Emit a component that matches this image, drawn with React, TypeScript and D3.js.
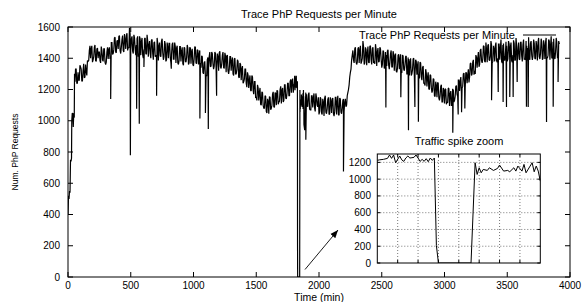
import React from "react";
import * as d3 from "d3";

// ---- data ----
const earlyTimes = [0, 4, 8, 12, 16, 20, 24, 28, 30, 34, 38, 42, 46, 50, 52, 56];
const earlyValues = [400, 520, 500, 550, 540, 750, 740, 760, 1000, 1050, 1040, 960, 1050, 1020, 1300, 1250];

// samples every 10 minutes, starting at 60
const partAStart = 60;
const partAValues = [
  1330, 1240, 1310, 1260, 1345, 1255, 1320, 1275, 1360, 1290,
  1380, 1450, 1400, 1480, 1390, 1470, 1385, 1460, 1400, 1440,
  1370, 1450, 1380, 1460, 1360, 1440, 1395, 1470, 1410, 1500,
  1430, 1530, 1440, 1510, 1460, 1545, 1430, 1520, 1450, 1555,
  1460, 1560, 1470, 1595, 1450, 1540, 1430, 1530, 1420, 1525,
  1410, 1540, 1420, 1530, 1400, 1525, 1430, 1550, 1410, 1510,
  1400, 1520, 1390, 1505, 1420, 1530, 1385, 1500, 1410, 1525,
  1390, 1510, 1380, 1500, 1400, 1495, 1370, 1490, 1395, 1500,
  1370, 1480, 1360, 1475, 1380, 1470, 1355, 1465, 1375, 1485,
  1360, 1470, 1365, 1460, 1350, 1475, 1370, 1455, 1360, 1450,
  1340, 1410, 1300, 1380, 1290, 1390, 1340, 1440, 1350, 1430,
  1330, 1440, 1340, 1430, 1320, 1445, 1335, 1420, 1340, 1435,
  1310, 1420, 1300, 1410, 1320, 1405, 1290, 1400, 1300, 1390,
  1280, 1370, 1260, 1350, 1250, 1330, 1240, 1310, 1210, 1290,
  1190, 1280, 1170, 1250, 1150, 1230, 1130, 1210, 1100, 1180,
  1080, 1160, 1060, 1140, 1045, 1150, 1080, 1170, 1090, 1180,
  1100, 1190, 1120, 1200, 1110, 1210, 1130, 1230, 1140, 1240,
  1160, 1250, 1180, 1270,
];
// samples every 10 minutes, starting at 65
const partA2Start = 65;
const partA2Values = [
  1330, 1240, 1260, 1355, 1330, 1255, 1365, 1280, 1315, 1385,
  1385, 1480, 1460, 1375, 1410, 1485, 1380, 1465, 1440, 1385,
  1475, 1390, 1460, 1375, 1375, 1470, 1455, 1395, 1500, 1425,
  1455, 1535, 1435, 1515, 1540, 1450, 1470, 1545, 1440, 1520,
  1545, 1450, 1465, 1555, 1525, 1445, 1550, 1460, 1485, 1540,
  1430, 1525, 1505, 1420, 1455, 1530, 1425, 1510, 1485, 1430,
  1515, 1430, 1500, 1410, 1405, 1495, 1480, 1415, 1510, 1435,
  1410, 1490, 1390, 1470, 1495, 1405, 1425, 1500, 1395, 1475,
  1465, 1370, 1385, 1475, 1445, 1365, 1470, 1380, 1405, 1465,
  1370, 1465, 1445, 1360, 1395, 1470, 1365, 1450, 1425, 1370,
  1415, 1310, 1370, 1280, 1285, 1405, 1410, 1345, 1440, 1365,
  1350, 1430, 1330, 1410, 1435, 1345, 1365, 1440, 1335, 1415,
  1415, 1320, 1330, 1410, 1380, 1300, 1395, 1300, 1325, 1380,
  1275, 1360, 1330, 1240, 1265, 1330, 1215, 1290, 1260, 1195,
  1290, 1195, 1250, 1150, 1130, 1210, 1180, 1105, 1185, 1100,
  1080, 1155, 1050, 1125, 1155, 1070, 1100, 1185, 1085, 1175,
  1195, 1105, 1125, 1220, 1195, 1120, 1230, 1145, 1175, 1240,
  1160, 1265, 1255, 1180,
];

// per-minute detail around the traffic spike (also shown in the inset)
const spikeTimes = [
  1800, 1801, 1803, 1805, 1806, 1807, 1808, 1809, 1811, 1812,
  1813, 1814, 1815, 1816, 1817, 1818, 1819, 1820, 1821, 1822,
  1823, 1824, 1825, 1826, 1827, 1828, 1829, 1830, 1846, 1848,
  1849, 1850, 1851, 1852, 1854, 1855, 1857, 1859, 1860, 1862,
  1864, 1865, 1867, 1868, 1869, 1871, 1872, 1873, 1875, 1876,
  1877, 1878, 1879, 1880,
];
const spikeValues = [
  1224, 1230, 1236, 1248, 1288, 1248, 1288, 1196, 1276, 1230,
  1212, 1252, 1276, 1252, 1256, 1260, 1288, 1252, 1212, 1236,
  1212, 1244, 1208, 1252, 1224, 1252, 210, 0, 0, 1196,
  1056, 1136, 1076, 1116, 1104, 1136, 1104, 1128, 1168, 1096,
  1104, 1088, 1136, 1096, 1156, 1096, 1176, 1076, 1156, 1196,
  1088, 1156, 1096, 976,
];

// samples every 10 minutes, starting at 1890
const partBStart = 1890;
const partBValues = [
  1080, 1170, 1090, 1180, 1070, 1160, 1085, 1175, 1060, 1150, 1090,
  1040, 1150, 1050, 1140, 1030, 1160, 1045, 1135, 1040, 1150,
  1050, 1145, 1030, 1150, 1040, 1160, 1035, 1140, 1045, 1130,
  1060, 1140, 1100, 1180, 1230, 1310, 1390, 1450, 1370, 1470,
  1360, 1460, 1370, 1480, 1380, 1510, 1360, 1470, 1355, 1475,
  1370, 1480, 1360, 1470, 1375, 1490, 1350, 1465, 1380, 1460,
  1340, 1450, 1335, 1440, 1350, 1455, 1330, 1430, 1345, 1445,
  1320, 1430, 1310, 1420, 1330, 1425, 1305, 1415, 1320, 1410,
  1300, 1405, 1290, 1400, 1300, 1395, 1280, 1390, 1295, 1380,
  1270, 1370, 1260, 1350, 1240, 1330, 1220, 1310, 1200, 1290,
  1180, 1270, 1160, 1250, 1150, 1240, 1130, 1220, 1120, 1210,
  1110, 1200, 1120, 1210, 1095, 1190, 1110, 1200, 1130, 1220,
  1170, 1260, 1190, 1280, 1210, 1300, 1230, 1310, 1240, 1330,
  1280, 1370, 1300, 1390, 1320, 1420, 1340, 1440, 1360, 1460,
  1370, 1480, 1380, 1500, 1375, 1490, 1385, 1510, 1370, 1480,
  1380, 1500, 1375, 1490, 1390, 1520, 1370, 1495, 1385, 1505,
  1380, 1510, 1390, 1500, 1375, 1515, 1385, 1530, 1380, 1500,
  1390, 1505, 1380, 1520, 1395, 1510, 1385, 1535, 1390, 1510,
  1390, 1520, 1400, 1510, 1385, 1530, 1395, 1525, 1390, 1515,
  1395, 1530, 1400, 1520, 1390, 1540, 1405, 1525, 1395, 1530,
  1400, 1510,
];
// samples every 10 minutes, starting at 1895
const partB2Start = 1895;
const partB2Values = [
  1180, 1095, 1165, 1075, 1070, 1160, 1145, 1080, 1175, 1100, 1150,
  1060, 1140, 1040, 1120, 1145, 1055, 1075, 1150, 1045, 1125,
  1140, 1045, 1060, 1150, 1120, 1040, 1145, 1055, 1080, 1140,
  1120, 1090, 1160, 1200, 1280, 1330, 1420, 1390, 1460, 1380,
  1375, 1470, 1450, 1365, 1400, 1475, 1370, 1455, 1430, 1375,
  1475, 1390, 1460, 1370, 1365, 1455, 1440, 1375, 1470, 1395,
  1360, 1440, 1340, 1420, 1445, 1355, 1375, 1450, 1345, 1425,
  1415, 1320, 1335, 1425, 1395, 1315, 1420, 1330, 1355, 1415,
  1300, 1395, 1375, 1290, 1325, 1400, 1295, 1380, 1355, 1300,
  1375, 1280, 1340, 1240, 1225, 1305, 1280, 1205, 1295, 1215,
  1195, 1265, 1155, 1225, 1245, 1145, 1160, 1230, 1120, 1195,
  1205, 1105, 1115, 1205, 1170, 1095, 1205, 1120, 1155, 1225,
  1155, 1260, 1250, 1175, 1220, 1305, 1210, 1305, 1290, 1245,
  1365, 1290, 1375, 1295, 1300, 1405, 1400, 1345, 1450, 1385,
  1395, 1475, 1375, 1455, 1480, 1390, 1410, 1485, 1380, 1460,
  1480, 1385, 1400, 1490, 1460, 1380, 1485, 1395, 1420, 1480,
  1395, 1490, 1470, 1385, 1420, 1495, 1390, 1475, 1450, 1395,
  1500, 1415, 1485, 1395, 1390, 1480, 1465, 1400, 1495, 1420,
  1415, 1495, 1395, 1475, 1500, 1410, 1430, 1505, 1400, 1480,
  1500, 1405, 1420, 1510, 1480, 1400, 1505, 1415, 1440, 1500,
  1410, 1490,
];

// single-minute dips
const dipTimes = [
  340, 497, 547, 568, 605, 706, 823, 1051, 1095, 1118,
  1184, 1886, 1895, 2195, 2533, 2652, 2713, 2764, 2792, 3066,
  3109, 3136, 3162, 3375, 3428, 3467, 3494, 3520, 3547, 3579,
  3653, 3667, 3813, 3866, 3905,
];
const dipValues = [
  1140, 780, 1077, 981, 1344, 1160, 1333, 1015, 1050, 948,
  1160, 940, 878, 675, 1085, 1150, 940, 1088, 993, 924,
  1040, 1055, 1078, 1131, 1184, 1120, 1088, 1152, 1152, 1248,
  1090, 1088, 992, 1090, 1248,
];

const xTicks = [0, 500, 1000, 1500, 2000, 2500, 3000, 3500, 4000];
const yTicks = [0, 200, 400, 600, 800, 1000, 1200, 1400, 1600];
const insetYTicks = [0, 200, 400, 600, 800, 1000, 1200];
const insetXGrid = [1810, 1820, 1830, 1840, 1850, 1860, 1870];

const title = "Trace PhP Requests per Minute";
const legendLabel = "Trace PhP Requests per Minute";
const insetTitle = "Traffic spike zoom";
const xLabel = "Time (min)";
const yLabel = "Num. PhP Requests";

type P = [number, number];

function buildSeries(): P[] {
  const pts: P[] = [];
  earlyTimes.forEach((t, i) => pts.push([t, earlyValues[i]]));
  partAValues.forEach((v, i) => pts.push([partAStart + i * 10, v]));
  partA2Values.forEach((v, i) => pts.push([partA2Start + i * 10, v]));
  spikeTimes.forEach((t, i) => pts.push([t, spikeValues[i]]));
  partBValues.forEach((v, i) => pts.push([partBStart + i * 10, v]));
  partB2Values.forEach((v, i) => pts.push([partB2Start + i * 10, v]));
  dipTimes.forEach((t, i) => pts.push([t, dipValues[i]]));
  return pts
    .map((p, i) => ({ p, i }))
    .sort((a, b) => a.p[0] - b.p[0] || a.i - b.i)
    .map((o) => o.p);
}

const FONT = "'Liberation Sans', Arial, Helvetica, sans-serif";

export default function App() {
  const series = buildSeries();
  const x = d3.scaleLinear().domain([0, 4000]).range([68, 570]);
  const y = d3.scaleLinear().domain([0, 1600]).range([277, 27]);
  const line = d3.line<P>().x((d) => x(d[0])).y((d) => y(d[1]));

  const xi = d3.scaleLinear().domain([1800, 1880]).range([377.3, 540.3]);
  const yi = d3.scaleLinear().domain([0, 1300]).range([263, 154]);
  const insetData = series.filter((d) => d[0] >= 1800 && d[0] <= 1880);
  const lineI = d3.line<P>().x((d) => xi(d[0])).y((d) => yi(d[1]));

  const tk = 5;
  const fs = 10;
  return (
    <svg width={583} height={302} style={{ position: "absolute", left: 0, top: 0, background: "#fff" }} fontFamily={FONT}>
      <defs>
        <clipPath id="mainclip">
          <rect x={68} y={27} width={502} height={250} />
        </clipPath>
        <clipPath id="insetclip">
          <rect x={377.3} y={154} width={163} height={109} />
        </clipPath>
        <marker id="arrowhead" viewBox="0 0 10 10" refX={10} refY={5} markerWidth={8} markerHeight={8} markerUnits="userSpaceOnUse" orient="auto">
          <path d="M0,1 L10,5 L0,9 z" fill="#000" />
        </marker>
      </defs>
      <rect x={0} y={0} width={583} height={302} fill="#fff" />
      <text x={319} y={18} textAnchor="middle" fontSize={11}>{title}</text>

      {/* main data */}
      <path d={line(series) || ""} fill="none" stroke="#000" strokeWidth={1.2} strokeLinejoin="miter" strokeMiterlimit={2} clipPath="url(#mainclip)" />

      {/* frame */}
      <rect x={68} y={27} width={502} height={250} fill="none" stroke="#000" strokeWidth={1} />
      {xTicks.map((t) => (
        <g key={"x" + t}>
          <line x1={x(t)} x2={x(t)} y1={277} y2={277 - tk} stroke="#000" />
          <line x1={x(t)} x2={x(t)} y1={27} y2={27 + tk} stroke="#000" />
          <text x={x(t)} y={288.5} textAnchor="middle" fontSize={fs}>{t}</text>
        </g>
      ))}
      {yTicks.map((t) => (
        <g key={"y" + t}>
          <line x1={68} x2={68 + tk} y1={y(t)} y2={y(t)} stroke="#000" />
          <line x1={570} x2={570 - tk} y1={y(t)} y2={y(t)} stroke="#000" />
          <text x={60} y={y(t) + 3.5} textAnchor="end" fontSize={fs}>{t}</text>
        </g>
      ))}
      <text x={319} y={300.5} textAnchor="middle" fontSize={10.5}>{xLabel}</text>
      <text transform="translate(17.5,152) rotate(-90)" textAnchor="middle" fontSize={8.5}>{yLabel}</text>

      {/* legend */}
      <text x={515} y={38.5} textAnchor="end" fontSize={11}>{legendLabel}</text>
      <line x1={523} x2={556} y1={35} y2={35} stroke="#000" strokeWidth={1} />

      {/* inset */}
      <text x={459} y={145} textAnchor="middle" fontSize={11}>{insetTitle}</text>
      <rect x={377.3} y={154} width={163} height={109} fill="#fff" />
      {insetXGrid.map((t) => (
        <g key={"gx" + t}>
          <line x1={xi(t)} x2={xi(t)} y1={154} y2={263} stroke="#555" strokeDasharray="1,2" strokeWidth={0.8} />
          <line x1={xi(t)} x2={xi(t)} y1={263} y2={260} stroke="#000" />
          <line x1={xi(t)} x2={xi(t)} y1={154} y2={157} stroke="#000" />
        </g>
      ))}
      {insetYTicks.map((t) => (
        <g key={"gy" + t}>
          {t > 0 && <line x1={377.3} x2={540.3} y1={yi(t)} y2={yi(t)} stroke="#555" strokeDasharray="1,2" strokeWidth={0.8} />}
          <line x1={377.3} x2={380.3} y1={yi(t)} y2={yi(t)} stroke="#000" />
          <line x1={540.3} x2={537.3} y1={yi(t)} y2={yi(t)} stroke="#000" />
          <text x={371} y={yi(t) + 3.5} textAnchor="end" fontSize={fs}>{t}</text>
        </g>
      ))}
      <path d={lineI(insetData) || ""} fill="none" stroke="#000" strokeWidth={1} clipPath="url(#insetclip)" />
      <rect x={377.3} y={154} width={163} height={109} fill="none" stroke="#000" strokeWidth={1} />

      {/* arrow */}
      <line x1={305} y1={269.5} x2={338} y2={230} stroke="#000" strokeWidth={0.9} markerEnd="url(#arrowhead)" />
    </svg>
  );
}
